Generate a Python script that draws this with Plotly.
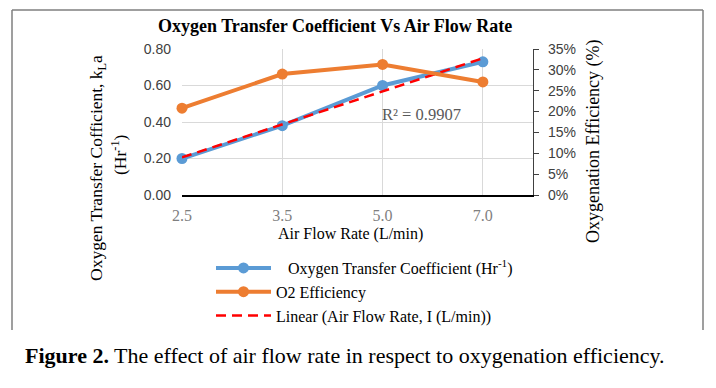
import numpy as np
import plotly.graph_objects as go

# ---- data ----
air_flow = ["2.5", "3.5", "5.0", "7.0"]
kla = [0.20, 0.38, 0.60, 0.73]
o2_eff = [0.208, 0.290, 0.313, 0.271]
r2_text = "R² = 0.9907"

name_kla = "\u00a0\u00a0\u00a0Oxygen Transfer Coefficient (Hr<sup>-1</sup>)"
name_eff = "O2 Efficiency"
name_lin = "Linear (Air Flow Rate, I (L/min))"

# linear trendline (Excel uses 1..n for a line chart)
idx = np.arange(1, len(kla) + 1)
slope, intercept = np.polyfit(idx, kla, 1)
trend = list(slope * idx + intercept)

SERIF = "Liberation Serif, Times New Roman, serif"
SANS = "Liberation Sans, Arial, sans-serif"

W, H = 716, 388
L, R, T, B = 182, 533, 49, 195


def xp(px):
    return (px - L) / (R - L)


def yp(py):
    return (B - py) / (B - T)


fig = go.Figure()
fig.add_trace(go.Scatter(
    x=air_flow, y=kla, name=name_kla, mode="lines+markers", cliponaxis=False,
    line=dict(color="#5B9BD5", width=4), marker=dict(size=11, color="#5B9BD5"),
    legendgroup="a", yaxis="y"))
fig.add_trace(go.Scatter(
    x=air_flow, y=o2_eff, name=name_eff, mode="lines+markers", cliponaxis=False,
    line=dict(color="#ED7D31", width=4), marker=dict(size=11, color="#ED7D31"),
    legendgroup="b", yaxis="y2"))
fig.add_trace(go.Scatter(
    x=air_flow, y=trend, name=name_lin, mode="lines", cliponaxis=False,
    line=dict(color="#FF0000", width=2.5, dash="10px,6px"),
    legendgroup="c", yaxis="y"))

fig.update_layout(
    width=W, height=H,
    margin=dict(l=L, r=W - R, t=T, b=H - B, pad=0, autoexpand=False),
    paper_bgcolor="white", plot_bgcolor="white",
    showlegend=True,
    legend=dict(
        xref="container", yref="container",
        x=211 / W, y=1 - 251 / H, xanchor="left", yanchor="top",
        font=dict(family=SERIF, size=16, color="#000000"),
        itemwidth=55, tracegroupgap=2, bgcolor="rgba(0,0,0,0)",
        traceorder="normal"),
    xaxis=dict(
        type="category", range=[0, 3.5],
        showgrid=True, gridcolor="#D9D9D9", gridwidth=1,
        showline=True, linecolor="#000000", linewidth=1.5,
        ticks="", ticklabelstandoff=5,
        tickfont=dict(family=SERIF, size=16, color="#7F7F7F"),
        zeroline=False),
    yaxis=dict(
        range=[0, 0.8], dtick=0.2, tickformat=".2f",
        showgrid=True, gridcolor="#D9D9D9", gridwidth=1,
        showline=False, zeroline=False, ticks="",
        ticklabelstandoff=10,
        tickfont=dict(family=SANS, size=14, color="#404040")),
    yaxis2=dict(
        overlaying="y", side="right",
        range=[0, 0.35], dtick=0.05, tickformat=".0%",
        showgrid=False, zeroline=False,
        showline=True, linecolor="#404040", linewidth=1.2,
        ticks="outside", ticklen=5, tickcolor="#404040",
        ticklabelstandoff=6,
        tickfont=dict(family=SANS, size=14, color="#404040")),
)


def note(text, px, py, size, color="#000", angle=0):
    return dict(text=text, x=xp(px), y=yp(py), xref="paper", yref="paper",
                xanchor="center", yanchor="middle", showarrow=False,
                textangle=angle, font=dict(family=SERIF, size=size, color=color))


ann = [
    note("<b>Oxygen Transfer Coefficient Vs Air Flow Rate</b>", 335, 26, 18),
    note("Air Flow Rate (L/min)", 350, 234, 16),
    note("Oxygen Transfer Cofficient, k<sub>L</sub>a", 97, 168, 17.5, angle=-90),
    note("(Hr<sup>-1</sup>)", 119, 155, 17.5, angle=-90),
    note("Oxygenation Efficiency (%)", 593, 141, 18, angle=-90),
    note(r2_text, 421, 114, 16.5, color="#595959"),
    note("<b>Figure 2.</b> The effect of air flow rate in respect to oxygenation efficiency.",
         345, 355, 22),
]
fig.update_layout(annotations=ann)

frame = dict(color="#7F7F7F", width=1.5)
shapes = [
    dict(type="line", xref="paper", yref="paper", x0=xp(12), x1=xp(12), y0=yp(10), y1=yp(330), line=frame),
    dict(type="line", xref="paper", yref="paper", x0=xp(703), x1=xp(703), y0=yp(10), y1=yp(330), line=frame),
    dict(type="line", xref="paper", yref="paper", x0=xp(12), x1=xp(703), y0=yp(10), y1=yp(10), line=frame),
]
fig.update_layout(shapes=shapes)

fig.write_html("out.html", config={"displayModeBar": False},
               post_script="document.body.style.margin='0';document.body.style.padding='0';")
